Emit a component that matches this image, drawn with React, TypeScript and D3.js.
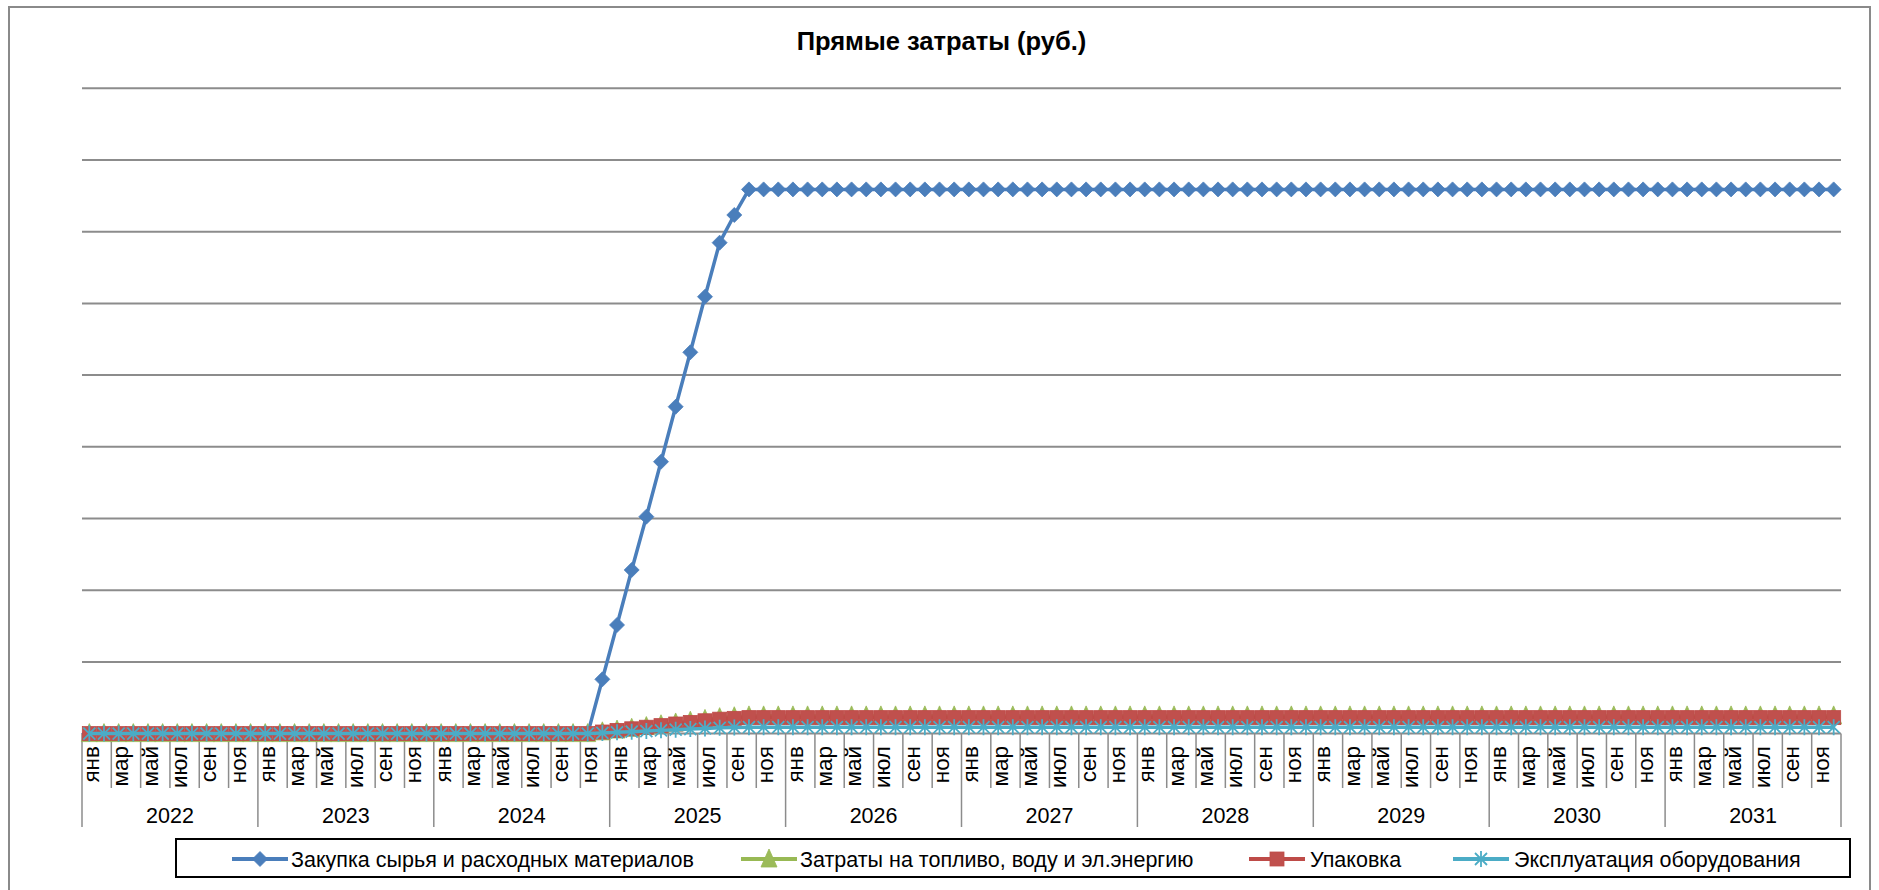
import React from "react";
import * as d3 from "d3";

// ---------- data ----------
const years = [2022, 2023, 2024, 2025, 2026, 2027, 2028, 2029, 2030, 2031];
const monthNames = ["янв", "фев", "мар", "апр", "май", "июн", "июл", "авг", "сен", "окт", "ноя", "дек"];
const yTicks = [0, 500000, 1000000, 1500000, 2000000, 2500000, 3000000, 3500000, 4000000, 4500000];

// Закупка сырья и расходных материалов (by year, Jan..Dec)
const rawMaterials = [
  0, 0, 0, 0, 0, 0, 0, 0, 0, 0, 0, 0,
  0, 0, 0, 0, 0, 0, 0, 0, 0, 0, 0, 0,
  0, 0, 0, 0, 0, 0, 0, 0, 0, 0, 0, 378500,
  757500, 1141000, 1512500, 1896000, 2279500, 2659000, 3046500, 3423500, 3616500, 3795000, 3795000, 3795000,
  3795000, 3795000, 3795000, 3795000, 3795000, 3795000, 3795000, 3795000, 3795000, 3795000, 3795000, 3795000,
  3795000, 3795000, 3795000, 3795000, 3795000, 3795000, 3795000, 3795000, 3795000, 3795000, 3795000, 3795000,
  3795000, 3795000, 3795000, 3795000, 3795000, 3795000, 3795000, 3795000, 3795000, 3795000, 3795000, 3795000,
  3795000, 3795000, 3795000, 3795000, 3795000, 3795000, 3795000, 3795000, 3795000, 3795000, 3795000, 3795000,
  3795000, 3795000, 3795000, 3795000, 3795000, 3795000, 3795000, 3795000, 3795000, 3795000, 3795000, 3795000,
  3795000, 3795000, 3795000, 3795000, 3795000, 3795000, 3795000, 3795000, 3795000, 3795000, 3795000, 3795000,
];

// Затраты на топливо, воду и эл.энергию
const energy = [
  0, 0, 0, 0, 0, 0, 0, 0, 0, 0, 0, 0,
  0, 0, 0, 0, 0, 0, 0, 0, 0, 0, 0, 0,
  0, 0, 0, 0, 0, 0, 0, 0, 0, 0, 0, 12300,
  24700, 37100, 49200, 61700, 74200, 86500, 99100, 111400, 117700, 123500, 123500, 123500,
  123500, 123500, 123500, 123500, 123500, 123500, 123500, 123500, 123500, 123500, 123500, 123500,
  123500, 123500, 123500, 123500, 123500, 123500, 123500, 123500, 123500, 123500, 123500, 123500,
  123500, 123500, 123500, 123500, 123500, 123500, 123500, 123500, 123500, 123500, 123500, 123500,
  123500, 123500, 123500, 123500, 123500, 123500, 123500, 123500, 123500, 123500, 123500, 123500,
  123500, 123500, 123500, 123500, 123500, 123500, 123500, 123500, 123500, 123500, 123500, 123500,
  123500, 123500, 123500, 123500, 123500, 123500, 123500, 123500, 123500, 123500, 123500, 123500,
];

// Упаковка
const packaging = [
  0, 0, 0, 0, 0, 0, 0, 0, 0, 0, 0, 0,
  0, 0, 0, 0, 0, 0, 0, 0, 0, 0, 0, 0,
  0, 0, 0, 0, 0, 0, 0, 0, 0, 0, 0, 11100,
  22300, 33500, 44400, 55700, 67000, 78100, 89500, 100600, 106300, 111500, 111500, 111500,
  111500, 111500, 111500, 111500, 111500, 111500, 111500, 111500, 111500, 111500, 111500, 111500,
  111500, 111500, 111500, 111500, 111500, 111500, 111500, 111500, 111500, 111500, 111500, 111500,
  111500, 111500, 111500, 111500, 111500, 111500, 111500, 111500, 111500, 111500, 111500, 111500,
  111500, 111500, 111500, 111500, 111500, 111500, 111500, 111500, 111500, 111500, 111500, 111500,
  111500, 111500, 111500, 111500, 111500, 111500, 111500, 111500, 111500, 111500, 111500, 111500,
  111500, 111500, 111500, 111500, 111500, 111500, 111500, 111500, 111500, 111500, 111500, 111500,
];

// Эксплуатация оборудования
const equipment = [
  0, 0, 0, 0, 0, 0, 0, 0, 0, 0, 0, 0,
  0, 0, 0, 0, 0, 0, 0, 0, 0, 0, 0, 0,
  0, 0, 0, 0, 0, 0, 0, 0, 0, 0, 0, 4500,
  9000, 13500, 17900, 22500, 27000, 31500, 36100, 40600, 42900, 45000, 45000, 45000,
  45000, 45000, 45000, 45000, 45000, 45000, 45000, 45000, 45000, 45000, 45000, 45000,
  45000, 45000, 45000, 45000, 45000, 45000, 45000, 45000, 45000, 45000, 45000, 45000,
  45000, 45000, 45000, 45000, 45000, 45000, 45000, 45000, 45000, 45000, 45000, 45000,
  45000, 45000, 45000, 45000, 45000, 45000, 45000, 45000, 45000, 45000, 45000, 45000,
  45000, 45000, 45000, 45000, 45000, 45000, 45000, 45000, 45000, 45000, 45000, 45000,
  45000, 45000, 45000, 45000, 45000, 45000, 45000, 45000, 45000, 45000, 45000, 45000,
];

const seriesNames = [
  "Закупка сырья и расходных материалов",
  "Затраты на топливо, воду и эл.энергию",
  "Упаковка",
  "Эксплуатация оборудования",
];
const title = "Прямые затраты (руб.)";

// ---------- layout ----------
const W = 1879;
const H = 890;
const PL = 82;
const PR = 1841;
const PT = 88.3;
const PB = 733.6;
const FONT = "'Liberation Sans', Arial, sans-serif";

const categories = years.flatMap((yr) => monthNames.map((m) => `${m} ${yr}`));

const x = d3.scaleBand<string>().domain(categories).range([PL, PR]).paddingInner(0).paddingOuter(0);
const bw = x.bandwidth();
const xc = (i: number) => (x(categories[i]) as number) + bw / 2;
const y = d3.scaleLinear().domain([0, 4500000]).range([PB, PT]);

const lineGen = d3
  .line<number>()
  .x((_, i) => xc(i))
  .y((d) => y(d));

const COLORS = {
  blue: "#4A7EBB",
  green: "#98B954",
  greenFill: "#9BBB59",
  red: "#BE4B48",
  redFill: "#C0504D",
  cyan: "#4BACC6",
};

type MarkerKind = "diamond" | "triangle" | "square" | "star";

function Marker({ kind, cx, cy }: { kind: MarkerKind; cx: number; cy: number }) {
  const t = `translate(${cx},${cy})`;
  if (kind === "diamond")
    return <path transform={t} d="M0,-7.5L7.5,0L0,7.5L-7.5,0Z" fill={COLORS.blue} stroke={COLORS.blue} strokeWidth={0.8} />;
  if (kind === "triangle")
    return <path transform={t} d="M0,-10L8,8L-8,8Z" fill={COLORS.greenFill} stroke={COLORS.green} strokeWidth={0.8} />;
  if (kind === "square")
    return <rect transform={t} x={-7} y={-7} width={14} height={14} fill={COLORS.redFill} stroke={COLORS.red} strokeWidth={0.8} />;
  return (
    <path
      transform={t}
      d="M-6,-6L6,6M-6,6L6,-6M0,-8L0,8"
      stroke={COLORS.cyan}
      strokeWidth={1.8}
      fill="none"
    />
  );
}

const seriesDefs: { data: number[]; color: string; kind: MarkerKind }[] = [
  { data: rawMaterials, color: COLORS.blue, kind: "diamond" },
  { data: energy, color: COLORS.green, kind: "triangle" },
  { data: packaging, color: COLORS.red, kind: "square" },
  { data: equipment, color: COLORS.cyan, kind: "star" },
];

const legendItems = [
  { sx: 232, tx: 291 },
  { sx: 741, tx: 800 },
  { sx: 1249, tx: 1310 },
  { sx: 1453, tx: 1514 },
];

export default function App() {
  const gridColor = "#8C8C8C";
  return (
    <div style={{ position: "absolute", left: 0, top: 0, width: W, height: H, background: "#fff" }}>
      <svg width={W} height={H} style={{ display: "block" }} fontFamily={FONT}>
        <rect x={0} y={0} width={W} height={H} fill="#fff" />
        {/* chart border */}
        <rect x={9} y={7} width={1861} height={900} fill="#fff" stroke="#8A8A8A" strokeWidth={2} />

        {/* title */}
        <text x={941.5} y={50} textAnchor="middle" fontSize={25.5} fontWeight="bold" fill="#000">
          {title}
        </text>

        {/* gridlines */}
        {yTicks.map((t) => (
          <line key={t} x1={PL} x2={PR} y1={y(t)} y2={y(t)} stroke={gridColor} strokeWidth={2} />
        ))}

        {/* x axis tick marks */}
        {categories.map((c, i) =>
          i % 2 === 0 ? (
            <line
              key={"t" + c}
              x1={x(c) as number}
              x2={x(c) as number}
              y1={PB}
              y2={i % 12 === 0 ? 827 : 788}
              stroke={gridColor}
              strokeWidth={1.5}
            />
          ) : null
        )}
        <line x1={PR} x2={PR} y1={PB} y2={827} stroke={gridColor} strokeWidth={1.5} />

        {/* month labels */}
        {categories.map((c, i) =>
          i % 2 === 0 ? (
            <text
              key={"m" + c}
              transform={`translate(${xc(i) + 1.5},746) rotate(-90)`}
              textAnchor="end"
              dy="0.36em"
              fontSize={22.5}
              fill="#000"
            >
              {monthNames[i % 12]}
            </text>
          ) : null
        )}

        {/* year labels */}
        {years.map((yr, k) => {
          const x0 = x(categories[k * 12]) as number;
          const x1 = (x(categories[k * 12 + 11]) as number) + bw;
          return (
            <text key={yr} x={(x0 + x1) / 2} y={823} textAnchor="middle" fontSize={21.5} fill="#000">
              {yr}
            </text>
          );
        })}

        {/* series */}
        {seriesDefs.map((s, si) => (
          <g key={si}>
            <path d={lineGen(s.data) || ""} fill="none" stroke={s.color} strokeWidth={3.5} strokeLinejoin="round" />
            {s.data.map((v, i) => (
              <Marker key={i} kind={s.kind} cx={xc(i)} cy={y(v)} />
            ))}
          </g>
        ))}

        {/* legend */}
        <rect x={176} y={839} width={1674} height={38} fill="#fff" stroke="#000" strokeWidth={2} />
        {legendItems.map((li, k) => (
          <g key={k}>
            <line x1={li.sx} x2={li.sx + 56} y1={859} y2={859} stroke={seriesDefs[k].color} strokeWidth={4} />
            <Marker kind={seriesDefs[k].kind} cx={li.sx + 28} cy={859} />
            <text x={li.tx} y={867} fontSize={21.5} fill="#000">
              {seriesNames[k]}
            </text>
          </g>
        ))}
      </svg>
    </div>
  );
}
